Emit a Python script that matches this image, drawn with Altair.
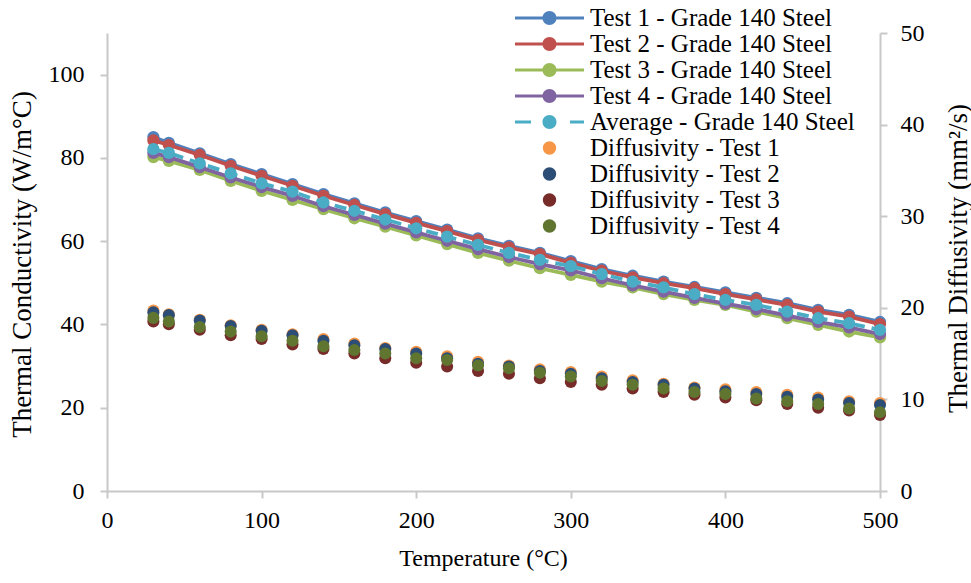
import altair as alt
import pandas as pd

temps = [30, 40, 60, 80, 100, 120, 140, 160, 180, 200, 220, 240, 260,
         280, 300, 320, 340, 360, 380, 400, 420, 440, 460, 480, 500]

# Thermal conductivity (W/m°C)
k_test1 = [85.0, 83.6, 81.1, 78.5, 76.1, 73.7, 71.3, 69.1, 66.9, 64.8, 62.8, 60.7, 58.9,
           57.2, 55.2, 53.3, 51.7, 50.3, 49.0, 47.7, 46.4, 45.1, 43.5, 42.3, 40.6]
k_test2 = [84.2, 83.1, 80.7, 78.1, 75.7, 73.3, 70.9, 68.7, 66.5, 64.4, 62.4, 60.3, 58.5,
           56.9, 54.8, 52.9, 51.3, 49.9, 48.7, 47.3, 46.0, 44.7, 43.1, 41.9, 40.1]
k_test3 = [80.2, 79.3, 77.1, 74.5, 72.1, 69.9, 67.7, 65.5, 63.5, 61.4, 59.3, 57.2, 55.3,
           53.5, 51.9, 50.3, 48.9, 47.3, 45.9, 44.7, 43.1, 41.5, 39.9, 38.3, 36.9]
k_test4 = [81.2, 80.2, 77.8, 75.3, 73.0, 70.9, 68.4, 66.3, 64.2, 62.1, 60.1, 58.1, 56.2,
           54.5, 53.0, 51.1, 49.4, 47.9, 46.4, 45.0, 43.7, 42.1, 40.6, 39.3, 37.7]
k_avg = [82.1, 81.2, 78.7, 76.3, 73.9, 71.9, 69.3, 67.3, 65.2, 63.1, 61.1, 59.1, 57.2,
         55.5, 54.0, 52.1, 50.3, 48.9, 47.3, 45.9, 44.7, 43.1, 41.5, 40.3, 38.7]

# Thermal diffusivity (mm²/s)
d_test1 = [19.7, 19.3, 18.7, 18.1, 17.6, 17.1, 16.6, 16.1, 15.6, 15.2, 14.7, 14.1, 13.7,
           13.3, 13.0, 12.5, 12.1, 11.7, 11.3, 11.1, 10.8, 10.5, 10.2, 9.8, 9.6]
d_test2 = [19.5, 19.2, 18.6, 18.0, 17.5, 17.0, 16.4, 15.9, 15.5, 15.0, 14.5, 13.9, 13.6,
           13.1, 12.8, 12.3, 11.9, 11.6, 11.2, 10.9, 10.6, 10.3, 10.0, 9.6, 9.4]
d_test3 = [18.5, 18.2, 17.6, 17.0, 16.6, 16.0, 15.5, 15.0, 14.5, 14.0, 13.6, 13.1, 12.8,
           12.3, 11.9, 11.6, 11.2, 10.8, 10.5, 10.2, 9.9, 9.5, 9.1, 8.8, 8.3]
d_test4 = [18.9, 18.5, 17.9, 17.4, 16.9, 16.4, 15.8, 15.4, 15.0, 14.5, 14.3, 13.7, 13.4,
           12.9, 12.5, 12.0, 11.6, 11.2, 10.8, 10.6, 10.1, 9.8, 9.5, 9.0, 8.6]

cond_names = ["Test 1 - Grade 140 Steel", "Test 2 - Grade 140 Steel",
              "Test 3 - Grade 140 Steel", "Test 4 - Grade 140 Steel",
              "Average - Grade 140 Steel"]
diff_names = ["Diffusivity - Test 1", "Diffusivity - Test 2",
              "Diffusivity - Test 3", "Diffusivity - Test 4"]
cond_colors = ["#4F81BD", "#C0504D", "#9BBB59", "#8064A2", "#4BACC6"]
diff_colors = ["#F79646", "#2C4D75", "#772C2A", "#5F7530"]

x_ticks = [0, 100, 200, 300, 400, 500]
left_ticks = [0, 20, 40, 60, 80, 100]
right_ticks = [0, 10, 20, 30, 40, 50]

cond_series = [k_test1, k_test2, k_test3, k_test4, k_avg]
diff_series = [d_test1, d_test2, d_test3, d_test4]

rows = []
for name, vals in zip(cond_names + diff_names, cond_series + diff_series):
    for t, v in zip(temps, vals):
        rows.append({"series": name, "temp": t, "value": v})
df = pd.DataFrame(rows)

FONT = "Liberation Serif"
GRAY = "#C8C8C8"

# legend symbol shapes (line + marker, dashed line + marker, marker only)
LINE_MARK = ("M-4.93,-0.21 H4.93 V0.21 H-4.93 Z "
             "M-1,0 A1,1 0 1,1 1,0 A1,1 0 1,1 -1,0 Z")
DASH_MARK = ("M-4.93,-0.21 H-2.64 V0.21 H-4.93 Z "
             "M2.93,-0.21 H4.93 V0.21 H2.93 Z "
             "M-1,0 A1,1 0 1,1 1,0 A1,1 0 1,1 -1,0 Z")
DOT = "M-0.95,0 A0.95,0.95 0 1,1 0.95,0 A0.95,0.95 0 1,1 -0.95,0 Z"
legend_shapes = [LINE_MARK] * 4 + [DASH_MARK] + [DOT] * 4

x_enc = alt.X("temp:Q",
              scale=alt.Scale(domain=[0, 500], nice=False, zero=False),
              axis=alt.Axis(values=x_ticks, title="Temperature (°C)",
                            labelPadding=10, titleX=376, titleY=67,
                            titleBaseline="middle", titleFontSize=24,
                            labelFlush=False, labelOverlap=False))
left_y = alt.Y("value:Q",
               scale=alt.Scale(domain=[0, 110], nice=False),
               axis=alt.Axis(values=left_ticks, orient="left",
                             title="Thermal Conductivity (W/m°C)",
                             labelPadding=16, titleAngle=270, titleX=-85, titleY=231,
                             titleBaseline="middle", titleAlign="center",
                             titleFontSize=27, labelOverlap=False))
right_y = alt.Y("value:Q",
                scale=alt.Scale(domain=[0, 50], nice=False),
                axis=alt.Axis(values=right_ticks, orient="right",
                              title="Thermal Diffusivity (mm²/s)",
                              labelPadding=13, titleAngle=270, titleX=78, titleY=225,
                              titleBaseline="middle", titleAlign="center",
                              titleFontSize=27, labelOverlap=False))

cond_layers = []
for name, col in zip(cond_names, cond_colors):
    base = alt.Chart().transform_filter(alt.datum.series == name)
    if name.startswith("Average"):
        line = base.mark_line(color=col, strokeWidth=3.8, strokeDash=[12, 7])
    else:
        line = base.mark_line(color=col, strokeWidth=3.8)
    cond_layers.append(line.encode(x=x_enc, y=left_y))
    cond_layers.append(base.mark_circle(color=col, size=150, opacity=1)
                       .encode(x=x_enc, y=left_y))

diff_layers = []
for name, col in zip(diff_names, diff_colors):
    diff_layers.append(
        alt.Chart().transform_filter(alt.datum.series == name)
        .mark_circle(color=col, size=145, opacity=1)
        .encode(x=x_enc, y=right_y))

legend_def = alt.Legend(title=None, orient="none", legendX=430, legendY=-27.5,
                        padding=0, labelFont=FONT, labelFontSize=25,
                        labelColor="black", labelOffset=28, rowPadding=0,
                        symbolSize=196, symbolStrokeWidth=0, symbolOpacity=1,
                        labelLimit=600, direction="vertical")

all_names = cond_names + diff_names
all_colors = cond_colors + diff_colors
legend_layer = (alt.Chart().transform_filter("false")
                .mark_point(filled=True, opacity=1, size=196)
                .encode(color=alt.Color("series:N",
                                        scale=alt.Scale(domain=all_names, range=all_colors),
                                        legend=legend_def),
                        shape=alt.Shape("series:N",
                                        scale=alt.Scale(domain=all_names, range=legend_shapes),
                                        legend=legend_def)))

left = alt.layer(*cond_layers)
right = alt.layer(*diff_layers)

chart = (alt.layer(left, right, legend_layer, data=df)
         .resolve_scale(y="independent")
         .properties(width=773, height=458,
                     padding={"left": 107, "top": 33, "right": 91, "bottom": 92},
                     autosize=alt.AutoSizeParams(type="none"))
         .configure_view(stroke=None)
         .configure_axis(domainColor=GRAY, domainWidth=2, tickColor=GRAY, tickWidth=2,
                         tickSize=7, grid=False, labelFont=FONT, labelFontSize=24,
                         labelColor="black", titleFont=FONT, titleFontSize=25,
                         titleFontWeight="normal", titleColor="black"))

chart.save("out.html", embed_options={"renderer": "svg", "actions": False})
